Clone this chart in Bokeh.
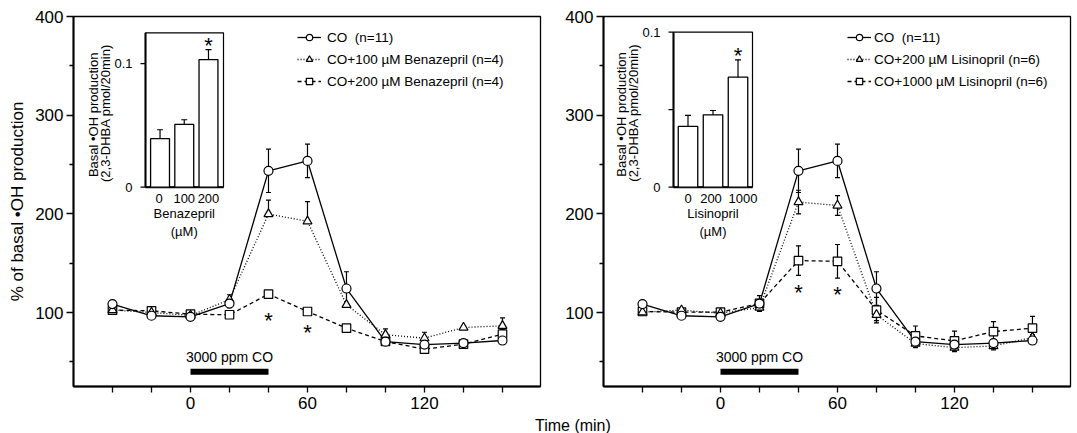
import math
from bokeh.plotting import figure
from bokeh.models import Range1d, FixedTicker, Legend, LegendItem, Div
from bokeh.layouts import row, column
from bokeh.core.properties import value
from bokeh.embed import file_html
from bokeh.resources import INLINE

# ---------------- data ----------------
times = [-40, -20, 0, 20, 40, 60, 80, 100, 120, 140, 160]

co_mean = [108.5, 96.7, 95.6, 109.0, 243.6, 253.6, 124.3, 70.4, 67.5, 69.0, 71.6]
co_sem = [0, 0, 0, 4, 22, 17, 17, 3, 3, 2, 4]

benazepril100_mean = [102.5, 100.0, 97.0, 113.0, 199.8, 192.4, 107.8, 77.4, 74.0, 84.8, 86.5]
benazepril100_sem = [0, 0, 0, 5, 14, 20, 0, 6, 6, 0, 8]
benazepril200_mean = [102.4, 101.7, 98.3, 97.7, 118.6, 101.0, 84.1, 70.6, 62.8, 67.9, 78.0]
benazepril200_sem = [0, 0, 0, 0, 0, 0, 0, 0, 3, 0, 5]

lisinopril200_mean = [100.3, 102.4, 99.3, 105.0, 211.9, 208.5, 97.7, 68.5, 64.4, 66.1, 74.6]
lisinopril200_sem = [0, 0, 0, 3, 12, 10, 6, 4, 4, 4, 3]
lisinopril1000_mean = [101.0, 100.3, 100.3, 109.2, 152.6, 151.9, 102.4, 76.3, 71.2, 80.7, 84.1]
lisinopril1000_sem = [0, 0, 0, 8, 15, 17, 13, 10, 10, 10, 12]

benazepril_labels = ["CO  (n=11)", "CO+100 µM Benazepril (n=4)", "CO+200 µM Benazepril (n=4)"]
lisinopril_labels = ["CO  (n=11)", "CO+200 µM Lisinopril (n=6)", "CO+1000 µM Lisinopril (n=6)"]

# significance marks (time, label height)
sig_times = [40, 60]
benazepril_sig_y = [93, 81]
lisinopril_sig_y = [121, 119]

x_major_ticks = [0, 60, 120]
x_minor_ticks = [-40, -20, 20, 40, 80, 100, 140, 160]
y_major_ticks = [100, 200, 300, 400]
y_minor_ticks = [50, 150, 250, 350]

co_exposure = [0, 40]
co_exposure_label = "3000 ppm CO"

# insets: basal *OH production
benazepril_doses = ["0", "100", "200"]
benazepril_basal = [0.0393, 0.0508, 0.1033]
benazepril_basal_err = [0.0072, 0.0038, 0.0081]
benazepril_inset_ticks = [0, 0.1]
benazepril_inset_tick_labels = ["0", "0.1"]

lisinopril_doses = ["0", "200", "1000"]
lisinopril_basal = [0.0392, 0.0467, 0.0710]
lisinopril_basal_err = [0.0071, 0.0028, 0.0112]
lisinopril_inset_ticks = [0, 0.05, 0.1]
lisinopril_inset_tick_labels = ["0", "", "0.1"]

inset_title = ["Basal  •OH production", "(2,3-DHBA pmol/20min)"]
y_title = "% of basal •OH production"
x_title = "Time (min)"

# ---------------- styling / layout ----------------
FONT = "Liberation Sans"
FRAME_W, FRAME_H = 467, 370
BORDER_TOP = 16
FRAME_TOP = BORDER_TOP
FRAME_BOTTOM = FRAME_TOP + FRAME_H
LEFT_BORDER_L, LEFT_BORDER_R = 73, 5
RIGHT_BORDER_L, RIGHT_BORDER_R = 58, 3
LEFT_FIG_W = LEFT_BORDER_L + FRAME_W + LEFT_BORDER_R


def make_panel(frame_left_page, border_left, border_right, series, labels, legend_loc,
               legend_standoff, inset, sig_y, ylabel):
    p = figure(frame_width=FRAME_W, frame_height=FRAME_H,
               x_range=Range1d(-60, 179.5), y_range=Range1d(25, 400),
               min_border_left=border_left, min_border_right=border_right,
               min_border_top=BORDER_TOP, min_border_bottom=28,
               toolbar_location=None, output_backend="svg")
    p.grid.visible = False
    p.outline_line_color = "black"
    p.outline_line_width = 1.3
    p.outline_line_alpha = 1

    xa = p.xaxis[0]
    xa.ticker = FixedTicker(ticks=x_major_ticks, minor_ticks=x_minor_ticks)
    ya = p.yaxis[0]
    ya.ticker = FixedTicker(ticks=y_major_ticks, minor_ticks=y_minor_ticks)
    for ax in (xa, ya):
        ax.axis_line_width = 2
        ax.axis_line_color = "black"
        ax.major_tick_line_color = "black"
        ax.minor_tick_line_color = "black"
        ax.major_tick_line_width = 1.3
        ax.minor_tick_line_width = 1.3
        ax.major_tick_in = 0
        ax.minor_tick_in = 0
        ax.major_label_text_font = FONT
        ax.major_label_text_font_size = "17px"
        ax.major_label_text_color = "black"
    xa.major_tick_out = 6
    xa.minor_tick_out = 6
    xa.major_label_standoff = 4
    ya.major_tick_out = 7
    ya.minor_tick_out = 4
    ya.major_label_standoff = 3
    if ylabel:
        ya.axis_label = ylabel
        ya.axis_label_text_font = FONT
        ya.axis_label_text_font_size = "17px"
        ya.axis_label_text_font_style = "normal"
        ya.axis_label_text_color = "black"
        ya.axis_label_standoff = 5

    # CO exposure bar
    p.segment(x0=[co_exposure[0]], y0=[40], x1=[co_exposure[1]], y1=[40],
              line_color="black", line_width=6, line_cap="butt")
    p.text(x=[sum(co_exposure) / 2], y=[40], text=[co_exposure_label],
           text_align="center", text_baseline="alphabetic", y_offset=-15,
           text_font=value(FONT), text_font_size=value("14px"), text_color="black")

    # lines and error bars
    line_rs = []
    for mean, sem, dash, marker, size, both in series:
        lr = p.line(times, mean, line_color="black", line_width=1.3, line_dash=dash)
        line_rs.append(lr)
        idx = [i for i, e in enumerate(sem) if e > 0]
        t = [times[i] for i in idx]
        hi = [mean[i] + sem[i] for i in idx]
        lo = [mean[i] - sem[i] for i in idx] if both else [mean[i] for i in idx]
        p.segment(x0=t, y0=lo, x1=t, y1=hi, line_color="black", line_width=1.2)
        p.scatter(t, hi, marker="dash", size=5, line_color="black", line_width=1.2)
        if both:
            p.scatter(t, lo, marker="dash", size=5, line_color="black", line_width=1.2)
    # markers (squares, triangles, then circles on top)
    marker_rs = [None] * len(series)
    for k in (2, 1, 0):
        mean, sem, dash, marker, size, both = series[k]
        marker_rs[k] = p.scatter(times, mean, marker=marker, size=size, fill_color="white",
                                 line_color="black", line_width=1.2)

    # significance asterisks
    p.text(x=sig_times, y=sig_y, text=["*"] * len(sig_times), text_align="center",
           text_baseline="middle", y_offset=1, text_font=value(FONT),
           text_font_size=value("22px"), text_color="black")

    legend = Legend(items=[LegendItem(label=value(lab), renderers=[line_rs[k], marker_rs[k]])
                           for k, lab in enumerate(labels)],
                    location=legend_loc, glyph_width=24, glyph_height=16, label_height=16,
                    spacing=6, padding=0, margin=0, border_line_alpha=0,
                    background_fill_alpha=0, label_standoff=legend_standoff,
                    label_text_font=FONT, label_text_font_size="13.5px",
                    label_text_color="black")
    p.add_layout(legend)

    add_inset(p, frame_left_page, **inset)
    return p


def add_inset(p, frame_left, box, x_ext, y_ext, doses, dose_shift, basal, err, ticks,
              tick_labels, drug):
    L, T, R, B = box
    kx = (x_ext[1] - x_ext[0]) / (R - L)
    xs = x_ext[0] - (L - frame_left) * kx
    p.extra_x_ranges = {"ix": Range1d(xs, xs + FRAME_W * kx)}
    ky = (y_ext[1] - y_ext[0]) / (B - T)
    ys = y_ext[0] - (FRAME_BOTTOM - B) * ky
    p.extra_y_ranges = {"iy": Range1d(ys, ys + FRAME_H * ky)}
    kw = dict(x_range_name="ix", y_range_name="iy")
    x0, x1 = x_ext
    y0, y1 = y_ext
    cats = list(range(len(doses)))

    p.quad(left=[x0], right=[x1], bottom=[y0], top=[y1], fill_color="white",
           line_color="black", line_width=1.2, **kw)
    p.segment(x0=[x0, x0], y0=[y0, y0], x1=[x0, x1], y1=[y1, y0],
              line_color="black", line_width=2, **kw)
    p.ray(x=[x0] * len(ticks), y=ticks, length=5, angle=math.pi, length_units="screen",
          line_color="black", line_width=1.2, **kw)
    p.text(x=[x0] * len(ticks), y=ticks, text=tick_labels, text_align="right",
           text_baseline="middle", x_offset=-13, text_font=value(FONT),
           text_font_size=value("13px"), text_color="black", **kw)

    p.vbar(x=cats, top=basal, bottom=0, width=0.78, fill_color="white",
           line_color="black", line_width=1.3, **kw)
    tops = [b + e for b, e in zip(basal, err)]
    p.segment(x0=cats, y0=basal, x1=cats, y1=tops, line_color="black", line_width=1.2, **kw)
    p.scatter(cats, tops, marker="dash", size=6, line_color="black", line_width=1.2, **kw)
    # significance asterisk above highest dose
    p.text(x=[cats[-1]], y=[tops[-1]], text=["*"], text_align="center",
           text_baseline="middle", y_offset=-4, text_font=value(FONT),
           text_font_size=value("22px"), text_color="black", **kw)

    p.text(x=cats, y=[y0] * len(cats), text=doses, text_align="center",
           text_baseline="top", x_offset=dose_shift, y_offset=7, text_font=value(FONT),
           text_font_size=value("13px"), text_color="black", **kw)
    p.text(x=[cats[1]], y=[y0], text=[drug], text_align="center", text_baseline="top",
           y_offset=19, text_font=value(FONT), text_font_size=value("13px"),
           text_color="black", **kw)
    p.text(x=[cats[1]], y=[y0], text=["(µM)"], text_align="center", text_baseline="top",
           y_offset=37, text_font=value(FONT), text_font_size=value("13px"),
           text_color="black", **kw)
    ymid = (y0 + y1) / 2
    p.text(x=[x0, x0], y=[ymid, ymid], text=inset_title, angle=math.pi / 2,
           text_align="center", text_baseline="middle", x_offset=[-52, -40], y_offset=3,
           text_font=value(FONT), text_font_size=value("13px"), text_color="black", **kw)


left_series = [
    (co_mean, co_sem, "solid", "circle", 9, True),
    (benazepril100_mean, benazepril100_sem, "1 2", "triangle", 9, False),
    (benazepril200_mean, benazepril200_sem, "4 3", "square", 8.5, True),
]
right_series = [
    (co_mean, co_sem, "solid", "circle", 9, True),
    (lisinopril200_mean, lisinopril200_sem, "1 2", "triangle", 9, True),
    (lisinopril1000_mean, lisinopril1000_sem, "4 3", "square", 8.5, True),
]

left = make_panel(LEFT_BORDER_L, LEFT_BORDER_L, LEFT_BORDER_R, left_series, benazepril_labels,
                  (224, 297), 6,
                  dict(box=(145, 32.3, 223, 186.7), x_ext=(-0.6, 2.62), y_ext=(0, 0.125),
                       doses=benazepril_doses, dose_shift=[-1, 0, 0],
                       basal=benazepril_basal, err=benazepril_basal_err,
                       ticks=benazepril_inset_ticks, tick_labels=benazepril_inset_tick_labels,
                       drug="Benazepril"),
                  benazepril_sig_y, y_title)
right = make_panel(LEFT_FIG_W + RIGHT_BORDER_L, RIGHT_BORDER_L, RIGHT_BORDER_R, right_series,
                   lisinopril_labels, (244, 297), 3,
                   dict(box=(673, 31.7, 752, 186.7), x_ext=(-0.58, 2.58), y_ext=(0, 0.1),
                        doses=lisinopril_doses, dose_shift=[0, -2, 5],
                        basal=lisinopril_basal, err=lisinopril_basal_err,
                        ticks=lisinopril_inset_ticks, tick_labels=lisinopril_inset_tick_labels,
                        drug="Lisinopril"),
                   lisinopril_sig_y, None)

xlabel = Div(text=('<div style="margin-left:530px;margin-top:-6px;font-family:\'Liberation Sans\';'
                   'font-size:16px;line-height:18px;white-space:nowrap;color:#000">'
                   + x_title + '</div>'), width=1070, height=12)

layout = column(row(left, right), xlabel)
open("out.html", "w").write(file_html(layout, INLINE))
